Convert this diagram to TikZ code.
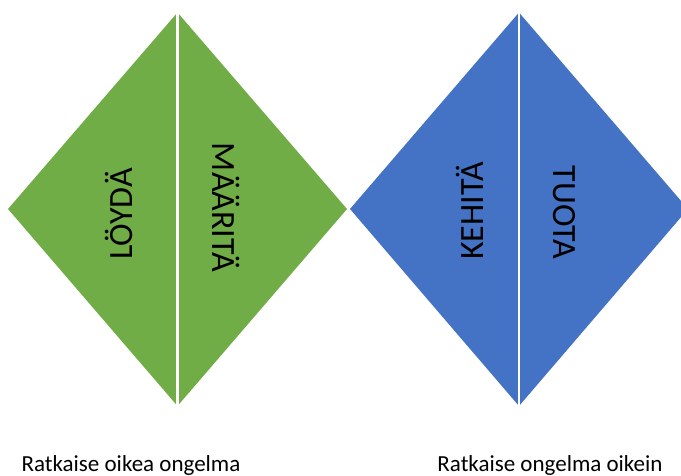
\documentclass[tikz,border=0pt]{standalone}
\usepackage{fontspec}
\setmainfont{Carlito}
\definecolor{leafgreen}{HTML}{70AD47}
\definecolor{officeblue}{HTML}{4472C4}
\begin{document}
\begin{tikzpicture}[x=1pt,y=1pt,
  half/.style={draw=none},
  seam/.style={draw=white,line width=2.2pt},
  phase/.style={font=\fontsize{34}{40}\selectfont,inner sep=0pt,anchor=base},
  goal/.style={font=\fontsize{23}{27}\selectfont,inner sep=0pt,anchor=base}]
\useasboundingbox (0,0) rectangle (681,475);
% green diamond: discover / define
\coordinate (gT) at (177.5,462.5);
\coordinate (gB) at (177.5,69);
\coordinate (gL) at (8,266);
\coordinate (gR) at (347,266);
\fill[leafgreen] (gT) -- (gL) -- (gB) -- cycle;
\fill[leafgreen] (gT) -- (gR) -- (gB) -- cycle;
\draw[seam] (gT) -- (gB);
% blue diamond: develop / deliver
\coordinate (bT) at (519,462.5);
\coordinate (bB) at (519,69);
\coordinate (bL) at (350,266);
\coordinate (bR) at (688,266);
\fill[officeblue] (bT) -- (bL) -- (bB) -- cycle;
\fill[officeblue] (bT) -- (bR) -- (bB) -- cycle;
\draw[seam] (bT) -- (bB);
% phase labels
\node[phase,rotate=90]  (loyda)   at (132,261)   {LÖYDÄ};
\node[phase,rotate=-90] (maarita) at (212,267.5) {MÄÄRITÄ};
\node[phase,rotate=90]  (kehita)  at (483,264)   {KEHITÄ};
\node[phase,rotate=-90] (tuota)   at (553,262.5) {TUOTA};
% goals under the diamonds
\node[goal] (oikea)  at (131,3.3) {Ratkaise oikea ongelma};
\node[goal] (oikein) at (550,3.3) {Ratkaise ongelma oikein};
\end{tikzpicture}
\end{document}
